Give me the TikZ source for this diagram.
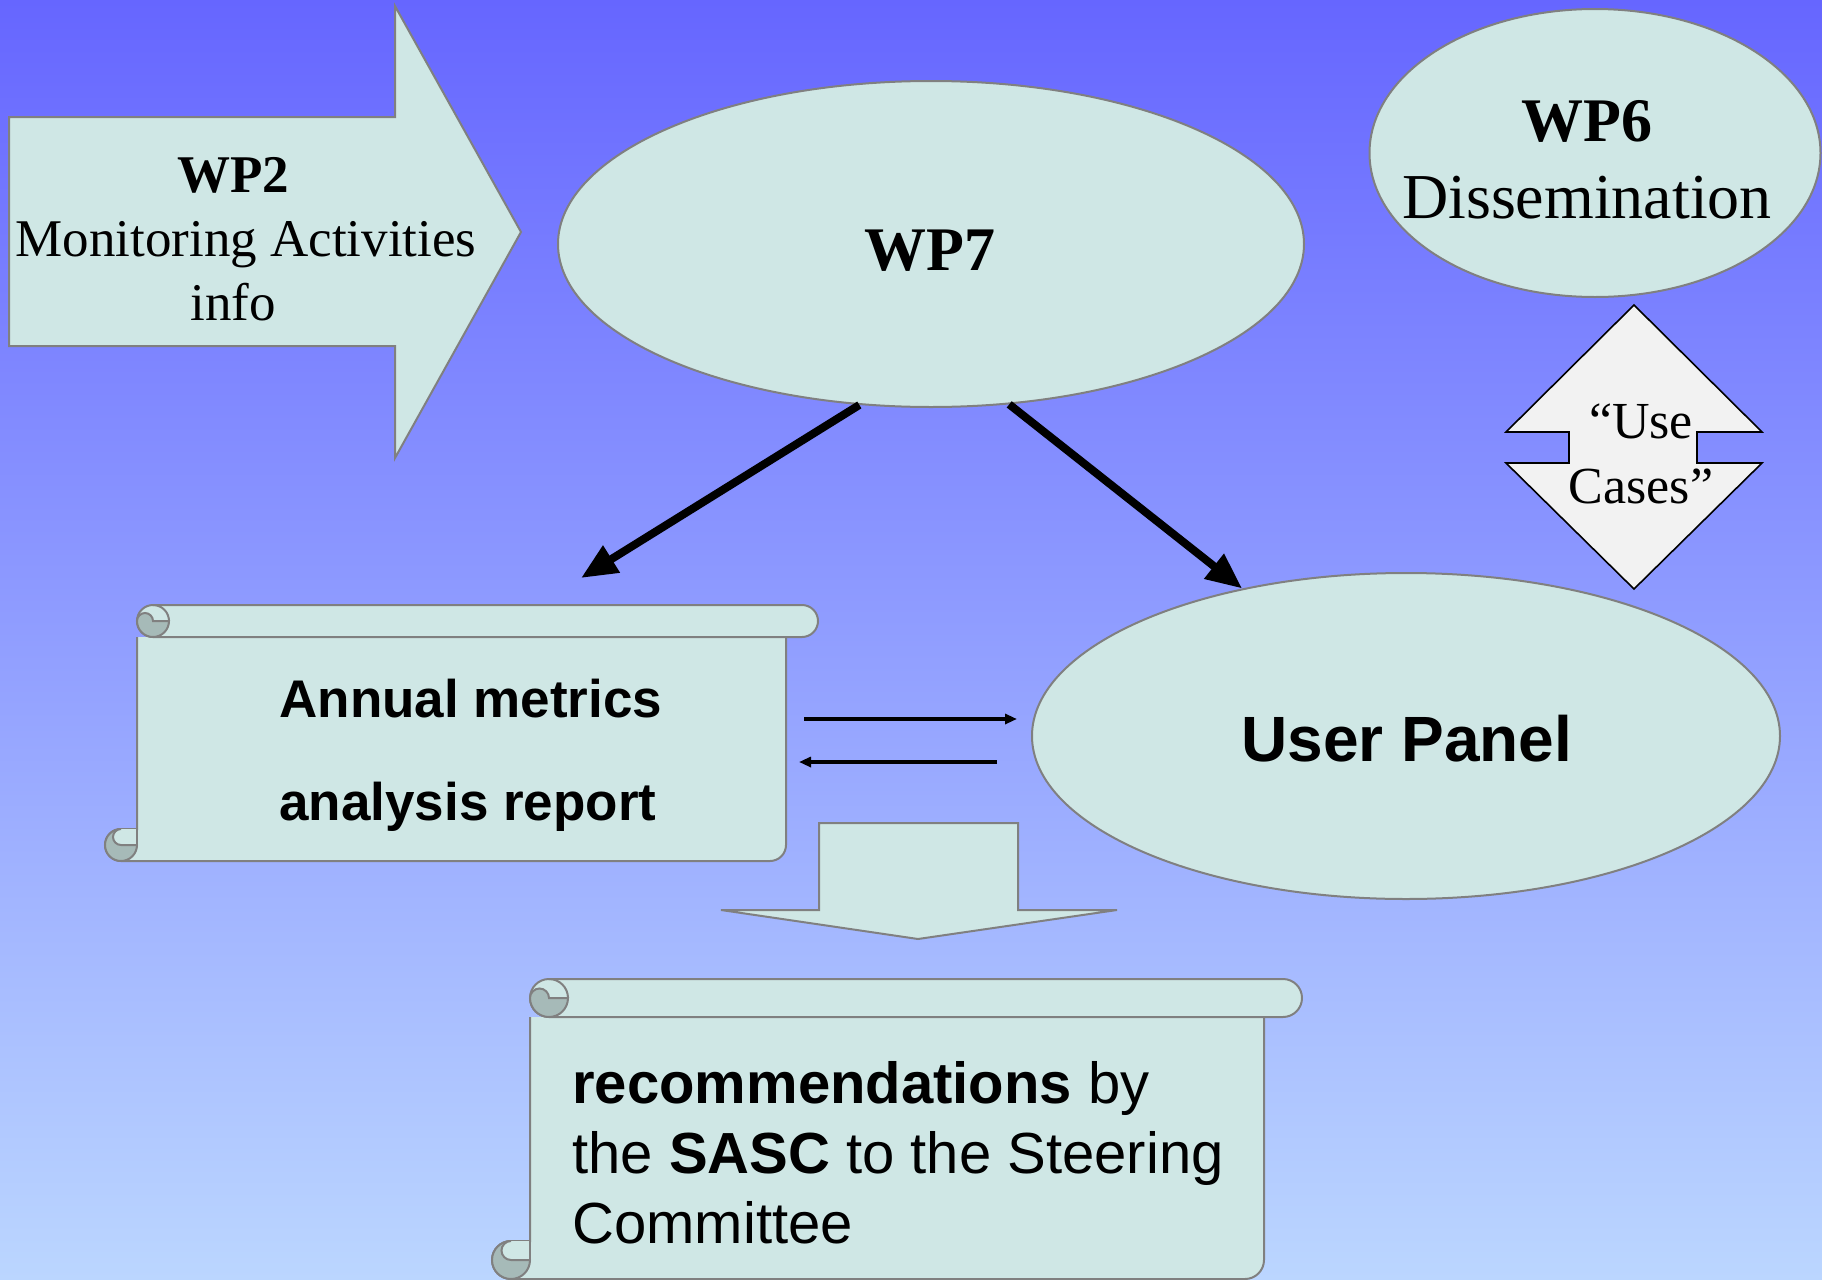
\documentclass[tikz,border=0pt]{standalone}
\usepackage{fontspec}
\setmainfont{Liberation Serif}
\setsansfont{Liberation Sans}
\usetikzlibrary{shapes.geometric,arrows.meta}
\definecolor{bgtop}{RGB}{102,102,255}
\definecolor{bgbot}{RGB}{187,214,255}
\definecolor{shapefill}{RGB}{207,231,229}
\definecolor{curlfill}{RGB}{166,186,184}
\definecolor{edgegray}{RGB}{128,128,128}
\definecolor{dafill}{RGB}{242,242,242}
% scroll: L T R B c
\newcommand{\scrollshape}[5]{%
  \pgfmathsetmacro\scL{#1}\pgfmathsetmacro\scT{#2}\pgfmathsetmacro\scR{#3}\pgfmathsetmacro\scB{#4}%
  \pgfmathsetmacro\scC{#5}\pgfmathsetmacro\scH{#5/2}\pgfmathsetmacro\scQ{#5/4}%
  % body
  \draw[edge, fill=shapefill] ({\scL+\scC},{\scT+\scC}) -- ({\scL+\scC},{\scB-\scC}) -- ({\scL+\scH},{\scB-\scC})
     arc[start angle=270,end angle=90,radius=\scH] -- ({\scR-\scC-\scH},{\scB})
     arc[start angle=90,end angle=0,radius=\scH] -- ({\scR-\scC},{\scT+\scC});
  % bottom-left curl
  \draw[edge, fill=curlfill] ({\scL+\scH},{\scB-\scH}) circle[radius=\scH];
  \fill[shapefill] ({\scL+\scC},{\scB-\scH}) -- ({\scL+\scH},{\scB-\scH}) arc[start angle=90,end angle=270,radius=\scQ]
     -- ({\scL+\scC},{\scB-\scC}) -- cycle;
  \draw[edge] ({\scL+\scC},{\scB-\scH}) -- ({\scL+\scH},{\scB-\scH}) arc[start angle=90,end angle=270,radius=\scQ];
  \draw[edge] ({\scL+\scC},{\scB-\scC}) -- ({\scL+\scC},{\scB-\scH});
  % top roll
  \draw[edge, fill=shapefill] ({\scL+\scC},{\scT+\scH}) arc[start angle=180,end angle=270,radius=\scH]
     -- ({\scR-\scH},{\scT}) arc[start angle=270,end angle=450,radius=\scH]
     -- ({\scL+\scC+\scH},{\scT+\scC}) arc[start angle=90,end angle=180,radius=\scH] -- cycle;
  \draw[edge] ({\scL+\scC+\scH},{\scT}) arc[start angle=270,end angle=360,radius=\scH];
  \draw[edge, fill=curlfill] ({\scL+\scC+\scC},{\scT+\scH}) arc[start angle=0,end angle=180,radius=\scH]
     arc[start angle=180,end angle=360,radius=\scQ] -- cycle;
}
\begin{document}
\begin{tikzpicture}[x=0.5pt,y=-0.5pt,
  edge/.style={draw=edgegray, line width=1pt},
  txt/.style={inner sep=0pt, anchor=base},
  bigarrow/.style={line width=4pt, -{Triangle[length=18pt,width=15pt]}},
  smallarrow/.style={line width=1.6pt, -{Triangle[length=6pt,width=5pt]}},
  oval/.style={ellipse, edge, fill=shapefill, inner sep=0pt}]
\shade[top color=bgtop, bottom color=bgbot] (0,0) rectangle (1822,1280);
\useasboundingbox (0,0) rectangle (1822,1280);

% WP2 block arrow
\draw[edge, fill=shapefill] (9,117) -- (395,117) -- (395,6) -- (521,232) -- (395,458) -- (395,346) -- (9,346) -- cycle;
\node[txt] (wp2a) at (233,192) {\fontsize{26.5}{30}\selectfont\bfseries WP2};
\node[txt] (wp2b) at (246,256) {\fontsize{26.5}{30}\selectfont Monitoring Activities};
\node[txt] (wp2c) at (233,320) {\fontsize{26.5}{30}\selectfont info};

% ellipses
\node[oval, minimum width=373pt, minimum height=163pt] (wp7) at (931,244) {};
\node[txt] (wp7t) at (930,270) {\fontsize{31}{36}\selectfont\bfseries WP7};
\node[oval, minimum width=225.5pt, minimum height=144pt] (wp6) at (1595,153) {};
\node[txt] (wp6a) at (1587,141) {\fontsize{31}{36}\selectfont\bfseries WP6};
\node[txt] (wp6b) at (1587,218) {\fontsize{32}{36}\selectfont Dissemination};
\node[oval, minimum width=374pt, minimum height=163pt] (up) at (1406,736) {};
\node[txt] (upt) at (1407,761) {\fontsize{32}{36}\selectfont\sffamily\bfseries User Panel};

% Use Cases double arrow
\draw[black, line width=0.8pt, fill=dafill] (1634,305) -- (1762,432) -- (1697,432) -- (1697,463) -- (1762,463) -- (1634,589)
  -- (1506,463) -- (1569,463) -- (1569,432) -- (1506,432) -- cycle;
\node[txt] (uca) at (1641,438) {\fontsize{26}{30}\selectfont “Use};
\node[txt] (ucb) at (1641,503) {\fontsize{26}{30}\selectfont Cases”};

% scrolls
\scrollshape{105}{605}{818}{861}{32}
\node[txt, anchor=base west] (am1) at (279,717) {\fontsize{26.5}{30}\selectfont\sffamily\bfseries Annual metrics};
\node[txt, anchor=base west] (am2) at (279,820) {\fontsize{26.5}{30}\selectfont\sffamily\bfseries analysis report};

\scrollshape{492}{979}{1302}{1279}{38}
\node[txt, anchor=base west] (rc1) at (572,1103) {\fontsize{29}{32}\selectfont\sffamily\textbf{recommendations} by};
\node[txt, anchor=base west] (rc2) at (572,1173) {\fontsize{29}{32}\selectfont\sffamily the \textbf{SASC} to the Steering};
\node[txt, anchor=base west] (rc3) at (572,1243) {\fontsize{29}{32}\selectfont\sffamily Committee};

% down block arrow
\draw[edge, fill=shapefill] (819,823) -- (1018,823) -- (1018,910) -- (1117,910) -- (918,939) -- (721,910) -- (819,910) -- cycle;

% connectors
\coordinate (a1end) at (581,578);
\draw[bigarrow] (wp7.-114) -- (a1end);
\draw[bigarrow] (wp7.-64.3) -- (up.138.5);
\coordinate (t1s) at (804,719);
\coordinate (t1e) at (1017,719);
\coordinate (t2s) at (997,762);
\coordinate (t2e) at (799,762);
\draw[smallarrow] (t1s) -- (t1e);
\draw[smallarrow] (t2s) -- (t2e);
\end{tikzpicture}
\end{document}
